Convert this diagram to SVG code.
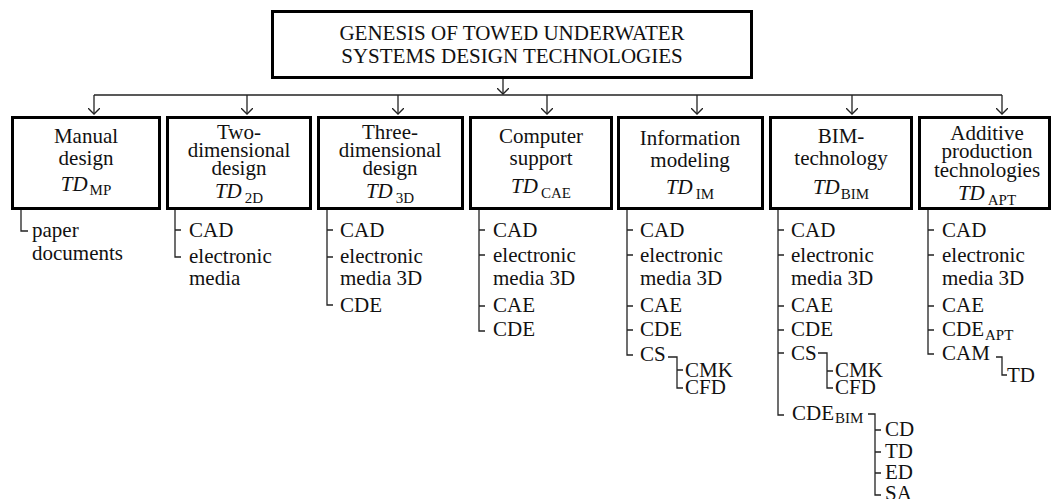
<svg xmlns="http://www.w3.org/2000/svg" width="1053" height="499" viewBox="0 0 1053 499">
  <style>
    .box { fill: #fff; stroke: #000; stroke-width: 3; }
    .ln { fill: none; stroke: #222; stroke-width: 1.3; }
    .t { font-family: "Times New Roman", Times, "Liberation Serif", Tinos, "DejaVu Serif", serif; font-size: 21px; fill: #111; }
    .c { text-anchor: middle; }
    .it { font-style: italic; }
    .sub { font-size: 15px; }
  </style>
  <defs>
    <marker id="arr" viewBox="0 0 12 12" refX="6" refY="6" markerWidth="12" markerHeight="12" markerUnits="userSpaceOnUse" orient="auto">
      <path d="M0,0 L6,6 L0,12" fill="none" stroke="#222" stroke-width="1.3"/>
    </marker>
  </defs>

  <rect width="1053" height="499" fill="#fff"/>

  <!-- connectors -->
  <g id="connectors" class="ln">
    <path d="M503,79 V94" marker-end="url(#arr)"/>
    <path d="M94,95 H1002"/>
    <path d="M94,95 V114" marker-end="url(#arr)"/>
    <path d="M247,95 V114" marker-end="url(#arr)"/>
    <path d="M398,95 V114" marker-end="url(#arr)"/>
    <path d="M547,95 V114" marker-end="url(#arr)"/>
    <path d="M697,95 V114" marker-end="url(#arr)"/>
    <path d="M852,95 V114" marker-end="url(#arr)"/>
    <path d="M1002,95 V114" marker-end="url(#arr)"/>

    <!-- column 1 -->
    <path d="M21,210 V231 H28"/>
    <!-- column 2 -->
    <path d="M175,210 V257 H181 M175,230 H181"/>
    <!-- column 3 -->
    <path d="M327,210 V305 H333 M327,230 H333 M327,257 H333"/>
    <!-- column 4 -->
    <path d="M479,210 V331 H485 M479,230 H485 M479,255 H485 M479,306 H485"/>
    <!-- column 5 -->
    <path d="M627,210 V355 H633 M627,230 H633 M627,255 H633 M627,306 H633 M627,330 H633"/>
    <path d="M668,357 H677 V388 H683 M677,370 H683"/>
    <!-- column 6 -->
    <path d="M778,210 V415 H784 M778,230 H784 M778,255 H784 M778,306 H784 M778,330 H784 M778,353 H784"/>
    <path d="M818,353 H827 V388 H833 M827,371 H833"/>
    <path d="M868,414 H875 V495 H881 M875,430 H881 M875,452 H881 M875,473 H881"/>
    <!-- column 7 -->
    <path d="M928,210 V354 H934 M928,230 H934 M928,255 H934 M928,306 H934 M928,330 H934"/>
    <path d="M996,357 H1002 V375 H1007"/>
  </g>

  <!-- root -->
  <g id="root" class="t">
    <rect class="box" x="272.5" y="11.5" width="479" height="66"/>
    <text class="c" x="512" y="40">GENESIS OF TOWED UNDERWATER</text>
    <text class="c" x="512" y="63">SYSTEMS DESIGN TECHNOLOGIES</text>
  </g>

  <!-- manual design -->
  <g id="n-mp" class="t">
    <rect class="box" x="12.5" y="117.5" width="147" height="91"/>
    <text class="c" x="86" y="143">Manual</text>
    <text class="c" x="86" y="165">design</text>
    <text class="c" x="86" y="191"><tspan class="it">TD</tspan><tspan class="sub" dx="2" dy="4">MP</tspan></text>
    <text x="32" y="237">paper</text>
    <text x="32" y="260">documents</text>
  </g>

  <!-- two-dimensional design -->
  <g id="n-2d" class="t">
    <rect class="box" x="167.5" y="117.5" width="143" height="91"/>
    <text class="c" x="239" y="139">Two-</text>
    <text class="c" x="239" y="157">dimensional</text>
    <text class="c" x="239" y="175">design</text>
    <text class="c" x="239" y="198"><tspan class="it">TD</tspan><tspan class="sub" dx="3" dy="5">2D</tspan></text>
    <text x="189" y="237">CAD</text>
    <text x="189" y="263">electronic</text>
    <text x="189" y="285">media</text>
  </g>

  <!-- three-dimensional design -->
  <g id="n-3d" class="t">
    <rect class="box" x="318.5" y="117.5" width="144" height="91"/>
    <text class="c" x="390" y="139">Three-</text>
    <text class="c" x="390" y="157">dimensional</text>
    <text class="c" x="390" y="175">design</text>
    <text class="c" x="390" y="198"><tspan class="it">TD</tspan><tspan class="sub" dx="3" dy="5">3D</tspan></text>
    <text x="340" y="237">CAD</text>
    <text x="340" y="263">electronic</text>
    <text x="340" y="285">media 3D</text>
    <text x="340" y="312">CDE</text>
  </g>

  <!-- computer support -->
  <g id="n-cae" class="t">
    <rect class="box" x="470.5" y="117.5" width="141" height="91"/>
    <text class="c" x="541" y="143">Computer</text>
    <text class="c" x="541" y="165">support</text>
    <text class="c" x="541" y="193"><tspan class="it">TD</tspan><tspan class="sub" dx="3" dy="5">CAE</tspan></text>
    <text x="493" y="237">CAD</text>
    <text x="493" y="262">electronic</text>
    <text x="493" y="285">media 3D</text>
    <text x="493" y="312">CAE</text>
    <text x="493" y="336">CDE</text>
  </g>

  <!-- information modeling -->
  <g id="n-im" class="t">
    <rect class="box" x="618.5" y="117.5" width="144" height="91"/>
    <text class="c" x="690" y="145">Information</text>
    <text class="c" x="690" y="167">modeling</text>
    <text class="c" x="690" y="194"><tspan class="it">TD</tspan><tspan class="sub" dx="3" dy="5">IM</tspan></text>
    <text x="640" y="237">CAD</text>
    <text x="640" y="262">electronic</text>
    <text x="640" y="285">media 3D</text>
    <text x="640" y="312">CAE</text>
    <text x="640" y="336">CDE</text>
    <text x="640" y="361">CS</text>
    <text x="685" y="377">CMK</text>
    <text x="685" y="394">CFD</text>
  </g>

  <!-- BIM technology -->
  <g id="n-bim" class="t">
    <rect class="box" x="770.5" y="117.5" width="141" height="91"/>
    <text class="c" x="841" y="143">BIM-</text>
    <text class="c" x="841" y="165">technology</text>
    <text class="c" x="841" y="194"><tspan class="it">TD</tspan><tspan class="sub" dx="1" dy="5">BIM</tspan></text>
    <text x="791" y="237">CAD</text>
    <text x="791" y="262">electronic</text>
    <text x="791" y="285">media 3D</text>
    <text x="791" y="312">CAE</text>
    <text x="791" y="336">CDE</text>
    <text x="791" y="360">CS</text>
    <text x="835" y="377">CMK</text>
    <text x="835" y="394">CFD</text>
    <text x="792" y="420">CDE<tspan class="sub" dx="1" dy="3">BIM</tspan></text>
    <text x="885" y="436">CD</text>
    <text x="885" y="458">TD</text>
    <text x="885" y="479">ED</text>
    <text x="885" y="500">SA</text>
  </g>

  <!-- additive production technologies -->
  <g id="n-apt" class="t">
    <rect class="box" x="919.5" y="117.5" width="130" height="91"/>
    <text class="c" x="987" y="140">Additive</text>
    <text class="c" x="987" y="158">production</text>
    <text class="c" x="987" y="177">technologies</text>
    <text class="c" x="987" y="200"><tspan class="it">TD</tspan><tspan class="sub" dx="3" dy="5">APT</tspan></text>
    <text x="942" y="237">CAD</text>
    <text x="942" y="262">electronic</text>
    <text x="942" y="285">media 3D</text>
    <text x="942" y="312">CAE</text>
    <text x="942" y="336">CDE<tspan class="sub" dx="1" dy="4">APT</tspan></text>
    <text x="942" y="360">CAM</text>
    <text x="1007" y="382">TD</text>
  </g>
</svg>
